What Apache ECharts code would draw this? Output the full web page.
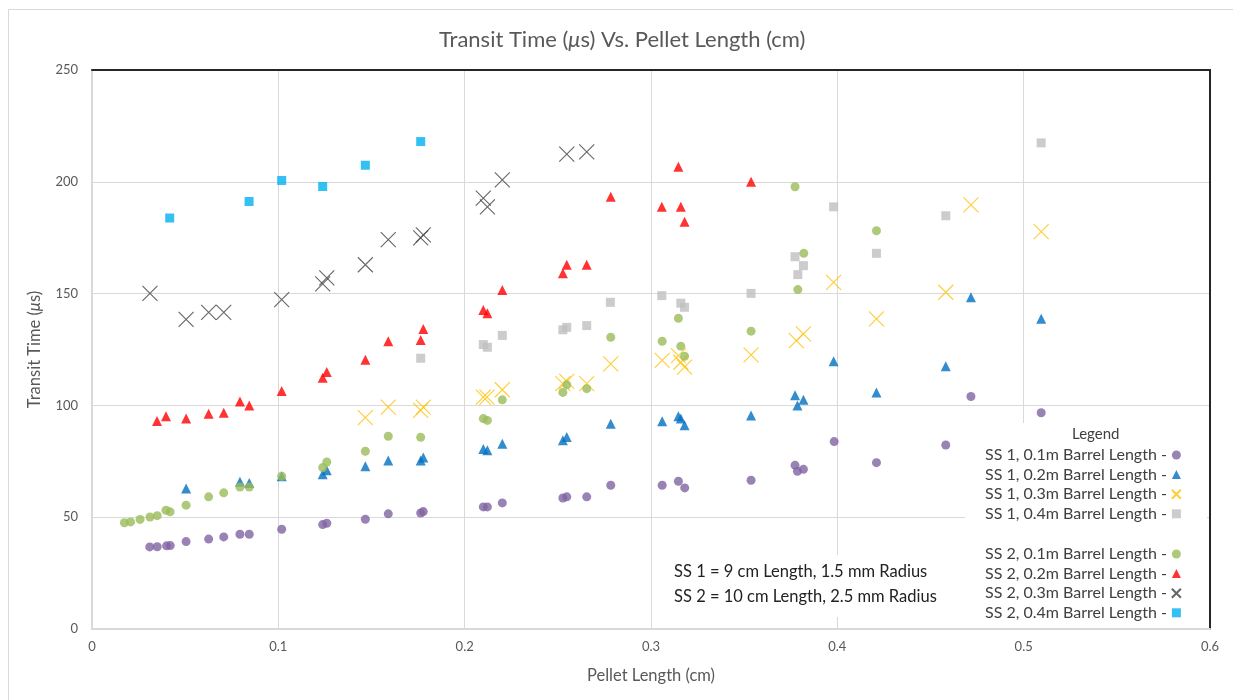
<!DOCTYPE html>
<html>
<head>
<meta charset="utf-8">
<script src="https://cdn.jsdelivr.net/npm/echarts@6/dist/echarts.min.js"></script>
<style>
html,body{margin:0;padding:0;background:#fff;}
#chart{width:1233px;height:700px;}
</style>
</head>
<body>
<div id="chart"></div>
<script>
// ---- Data: [pellet length (cm), transit time (µs)] ----
const ss1_01 = [[0.031,36.7],[0.035,36.8],[0.040,37.2],[0.042,37.3],[0.0505,39.1],[0.0626,40.2],[0.0707,41.2],[0.0794,42.4],[0.0844,42.4],[0.1018,44.6],[0.1238,46.7],[0.126,47.3],[0.1467,49.1],[0.159,51.5],[0.1764,51.9],[0.1778,52.5],[0.210,54.6],[0.2122,54.6],[0.2202,56.4],[0.2527,58.6],[0.2548,59.1],[0.2655,59.1],[0.2784,64.3],[0.306,64.3],[0.3147,66.1],[0.3181,63.1],[0.3537,66.5],[0.3773,73.2],[0.3786,70.5],[0.3818,71.4],[0.3983,83.8],[0.421,74.4],[0.4582,82.3],[0.4717,104],[0.5094,96.7]];
const ss1_02 = [[0.0505,62.8],[0.0794,65.8],[0.0844,65.3],[0.1018,68.3],[0.1238,69.2],[0.126,71],[0.1467,72.8],[0.159,75.4],[0.1764,75.4],[0.1778,76.7],[0.210,80.5],[0.2122,79.9],[0.2202,82.9],[0.2527,84.4],[0.2548,85.9],[0.2784,91.8],[0.306,92.9],[0.3147,95.1],[0.316,94.1],[0.318,91.1],[0.3537,95.5],[0.3773,104.5],[0.3786,100],[0.3818,102.5],[0.398,119.8],[0.421,105.8],[0.4582,117.5],[0.4717,148.4],[0.5094,138.7]];
const ss1_03 = [[0.1467,94.5],[0.159,99.2],[0.1764,97.8],[0.1778,99.2],[0.210,103.7],[0.212,103.7],[0.2202,107],[0.2527,109.7],[0.2548,110.7],[0.2655,109.7],[0.2784,118.6],[0.306,120.1],[0.3147,122.3],[0.316,119.3],[0.318,117.1],[0.3537,122.6],[0.378,129],[0.3818,132],[0.398,155],[0.421,138.7],[0.4582,150.6],[0.4717,189.7],[0.5094,177.7]];
const ss1_04 = [[0.1764,121.1],[0.210,127.2],[0.2122,126],[0.2202,131.3],[0.2527,133.8],[0.2548,134.9],[0.2655,135.7],[0.2782,146.1],[0.3058,149.1],[0.316,145.7],[0.318,143.9],[0.3537,150.1],[0.3773,166.5],[0.3788,158.5],[0.3818,162.5],[0.398,188.8],[0.421,168],[0.4582,184.8],[0.5094,217.4]];
const ss2_01 = [[0.0174,47.5],[0.0207,47.9],[0.0258,49],[0.0311,50.1],[0.035,50.7],[0.0397,53.1],[0.0419,52.4],[0.0505,55.4],[0.0626,59.1],[0.0707,60.9],[0.0794,63.5],[0.0844,63.5],[0.1018,68.3],[0.1238,72.2],[0.126,74.7],[0.1467,79.5],[0.159,86.2],[0.1764,85.7],[0.210,94.1],[0.2122,93.3],[0.2202,102.5],[0.2527,105.8],[0.2548,109.2],[0.2655,107.5],[0.2784,130.5],[0.306,128.7],[0.3147,139],[0.316,126.5],[0.318,122],[0.3537,133.2],[0.3773,197.8],[0.3788,151.8],[0.382,168],[0.421,178.1]];
const ss2_02 = [[0.0349,93],[0.0397,95.1],[0.0505,94.1],[0.0626,96.3],[0.0707,96.7],[0.0794,101.8],[0.0844,100],[0.1018,106.4],[0.1238,112.4],[0.126,114.9],[0.1467,120.4],[0.159,128.7],[0.1764,129.3],[0.1778,134.2],[0.210,142.7],[0.2122,141.2],[0.2202,151.6],[0.2527,159.1],[0.2548,162.9],[0.2655,162.9],[0.2784,193.3],[0.3058,188.8],[0.3147,206.7],[0.316,188.8],[0.318,182.1],[0.3537,200]];
const ss2_03 = [[0.0311,150.1],[0.0505,138.5],[0.0626,141.6],[0.0707,141.6],[0.1018,147.3],[0.1238,154.3],[0.126,157],[0.1467,162.9],[0.159,174.1],[0.1764,174.9],[0.1778,176.3],[0.210,192.7],[0.2122,188.8],[0.2202,200.9],[0.2548,212.4],[0.2655,213.4]];
const ss2_04 = [[0.0417,183.8],[0.0843,191.2],[0.1018,200.6],[0.1238,197.9],[0.1467,207.4],[0.1764,218]];

const seriesNames1 = ['SS 1, 0.1m Barrel Length -','SS 1, 0.2m Barrel Length -','SS 1, 0.3m Barrel Length -','SS 1, 0.4m Barrel Length -'];
const seriesNames2 = ['SS 2, 0.1m Barrel Length -','SS 2, 0.2m Barrel Length -','SS 2, 0.3m Barrel Length -','SS 2, 0.4m Barrel Length -'];
const noteLines = ['SS 1 = 9 cm Length, 1.5 mm Radius','SS 2 = 10 cm Length, 2.5 mm Radius'];

const FONT = 'Lato';
const XPATH = 'path://M0,0L10,10M10,0L0,10';

function sc(name, data, symbol, size, color, isX) {
  return {
    name, type: 'scatter', data, symbol, symbolSize: size,
    itemStyle: isX ? {color: 'rgba(0,0,0,0)', borderColor: color, borderWidth: 1.1} : {color},
    emphasis: {disabled: true}, z: 5
  };
}

const chart = echarts.init(document.getElementById('chart'));
const axisCommon = {
  min: 0,
  axisTick: {show: false},
  splitLine: {lineStyle: {color: '#d9d9d9', width: 1}},
  axisLine: {show: true, onZero: false, lineStyle: {color: '#d9d9d9', width: 2}}
};
const frameAxis = {
  type: 'value', min: 0,
  axisLine: {show: true, onZero: false, lineStyle: {color: '#262626', width: 2}},
  axisLabel: {show: false}, axisTick: {show: false}, splitLine: {show: false}
};
const legendCommon = {
  orient: 'vertical', align: 'right', left: 985, padding: 0,
  itemWidth: 9, itemHeight: 9, itemGap: 3.6,
  textStyle: {color: '#404040', fontFamily: FONT, fontSize: 16, padding: [0, 0, 0, 0]},
  selectedMode: false, z: 6
};
chart.setOption({
  animation: false,
  backgroundColor: '#fff',
  title: {
    text: 'Transit Time ({it|μ}s) Vs. Pellet Length (cm)',
    left: 434, top: 24,
    textStyle: {color: '#595959', fontFamily: FONT, fontSize: 22, fontWeight: 'normal',
      rich: {it: {fontStyle: 'italic', color: '#595959', fontFamily: FONT, fontSize: 22}}}
  },
  grid: {left: 92, right: 23, top: 70, bottom: 71},
  xAxis: [
    Object.assign({}, axisCommon, {type: 'value', max: 0.6, interval: 0.1,
      name: 'Pellet Length (cm)', nameLocation: 'middle', nameGap: 38,
      nameTextStyle: {color: '#595959', fontFamily: FONT, fontSize: 16.5},
      axisLabel: {color: '#595959', fontFamily: FONT, fontSize: 13, margin: 11, formatter: v => +v.toFixed(1) + ''}}),
    Object.assign({}, frameAxis, {position: 'top', max: 0.6, interval: 0.1})
  ],
  yAxis: [
    Object.assign({}, axisCommon, {type: 'value', max: 250, interval: 50,
      name: 'Transit Time ({it|μ}s)', nameLocation: 'middle', nameGap: 49,
      nameTextStyle: {color: '#595959', fontFamily: FONT, fontSize: 16.5,
        rich: {it: {fontStyle: 'italic', color: '#595959', fontFamily: FONT, fontSize: 16.5}}},
      axisLabel: {color: '#595959', fontFamily: FONT, fontSize: 13, margin: 14}}),
    Object.assign({}, frameAxis, {position: 'right', max: 250, interval: 50})
  ],
  legend: [
    Object.assign({}, legendCommon, {top: 447, data: seriesNames1}),
    Object.assign({}, legendCommon, {top: 546, data: seriesNames2})
  ],
  graphic: [
    {type: 'rect', left: 6, top: 7, shape: {width: 1240, height: 700}, style: {fill: 'none', stroke: '#d9d9d9', lineWidth: 1}, z: -10, silent: true},
    {type: 'rect', left: 965, top: 423, shape: {width: 242, height: 205}, style: {fill: '#fff'}, z: 3, silent: true},
    {type: 'text', left: 1072, top: 427, style: {text: 'Legend', fill: '#404040', font: '15px ' + FONT}, z: 4, silent: true},
    {type: 'rect', left: 660, top: 555, shape: {width: 295, height: 62}, style: {fill: '#fff'}, z: 3, silent: true},
    {type: 'text', left: 674, top: 563, style: {text: noteLines[0], fill: '#222', font: '16.5px ' + FONT}, z: 4, silent: true},
    {type: 'text', left: 674, top: 588, style: {text: noteLines[1], fill: '#222', font: '16.5px ' + FONT}, z: 4, silent: true}
  ],
  series: [
    sc(seriesNames1[0], ss1_01, 'circle', 9, '#8064A2'),
    sc(seriesNames1[1], ss1_02, 'triangle', 10, '#0070C0'),
    sc(seriesNames1[2], ss1_03, XPATH, 15, '#FFC000', true),
    sc(seriesNames1[3], ss1_04, 'rect', 9, '#BFBFBF'),
    sc(seriesNames2[0], ss2_01, 'circle', 9, '#9BBB59'),
    sc(seriesNames2[1], ss2_02, 'triangle', 10, '#FF0000'),
    sc(seriesNames2[2], ss2_03, XPATH, 15, '#404040', true),
    sc(seriesNames2[3], ss2_04, 'rect', 9, '#00B0F0')
  ]
});
</script>
</body>
</html>
